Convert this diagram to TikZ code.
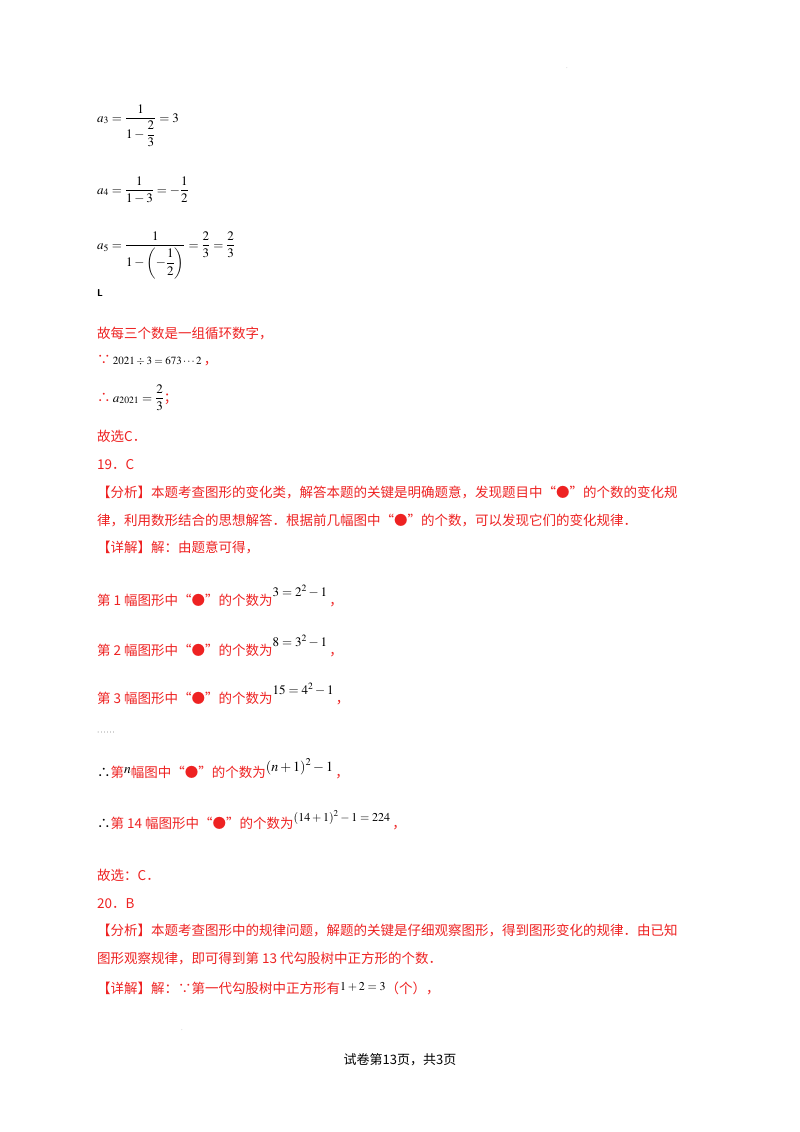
\documentclass[tikz,border=0pt]{standalone}
\usepackage{amsmath}
\usepackage{mathptmx}
\usepackage{fontspec}
\setmainfont{Liberation Serif}
\newfontfamily\cjk{Noto Sans CJK SC}
\definecolor{ansred}{RGB}{238,34,34}
\begin{document}
\begin{tikzpicture}[x=1pt,y=-1pt,
  txt/.style={anchor=base west,inner sep=0pt,font=\cjk\fontsize{13.5}{16}\selectfont},
  red/.style={txt,text=ansred},
  mth/.style={anchor=base west,inner sep=0pt,font=\fontsize{13}{15}\selectfont}]
\useasboundingbox[fill=white] (0,0) rectangle (800,1132);
\node[inner sep=0pt,text=gray,font=\tiny] (dot) at (567,68) {.};
\node[mth] (a3) at (97,122) {$a_3=\dfrac{1}{1-\dfrac{2}{3}}=3$};
\node[mth] (a4) at (97,194) {$a_4=\dfrac{1}{1-3}=-\dfrac{1}{2}$};
\node[mth] (a5) at (97,249) {$a_5=\dfrac{1}{1-\left(-\dfrac{1}{2}\right)}=\dfrac{2}{3}=\dfrac{2}{3}$};
\node[anchor=base west,inner sep=0pt,font=\sffamily\bfseries\fontsize{10}{12}\selectfont] (L) at (97,296) {L};
\node[red] (l1) at (97,338) {故每三个数是一组循环数字，};
\node[red] (l2) at (97,364) {∵\,\textcolor{black}{\fontsize{11}{12}\selectfont$2021\div3=673\cdots2$}\,，};
\node[red] (l3) at (97,402) {∴\,\textcolor{black}{\fontsize{13}{15}\selectfont$a_{2021}=\dfrac{2}{3}$}；};
\node[red] (l4) at (97,441) {故选C．};
\node[red] (l5) at (97,469) {19．C};
\node[red] (l6) at (97,497) {【分析】本题考查图形的变化类，解答本题的关键是明确题意，发现题目中“●”的个数的变化规};
\node[red] (l7) at (97,525) {律，利用数形结合的思想解答．根据前几幅图中“●”的个数，可以发现它们的变化规律．};
\node[red] (l8) at (97,552) {【详解】解：由题意可得，};
\node[red] (l9) at (97,605) {第 1 幅图形中“●”的个数为\raisebox{9pt}{\textcolor{black}{\fontsize{13}{15}\selectfont$3=2^2-1$}}\,，};
\node[red] (l10) at (97,655) {第 2 幅图形中“●”的个数为\raisebox{9pt}{\textcolor{black}{\fontsize{13}{15}\selectfont$8=3^2-1$}}\,，};
\node[red] (l11) at (97,703) {第 3 幅图形中“●”的个数为\raisebox{9pt}{\textcolor{black}{\fontsize{13}{15}\selectfont$15=4^2-1$}}\,，};
\node[txt] (l12) at (97,734) {\fontsize{8}{10}\selectfont$\cdots\cdots$};
\node[red] (l13) at (97,777) {\textcolor{black}{∴}第\raisebox{4pt}{\textcolor{black}{$n$}}幅图中“●”的个数为\raisebox{6pt}{\textcolor{black}{\fontsize{14}{16}\selectfont$(n+1)^2-1$}}\,，};
\node[red] (l14) at (97,828) {\textcolor{black}{∴}第 14 幅图形中“●”的个数为\raisebox{7pt}{\textcolor{black}{\fontsize{12}{14}\selectfont$(14+1)^2-1=224$}}\,，};
\node[red] (l15) at (97,880) {故选：C．};
\node[red] (l16) at (97,908) {20．B};
\node[red] (l17) at (97,935) {【分析】本题考查图形中的规律问题，解题的关键是仔细观察图形，得到图形变化的规律．由已知};
\node[red] (l18) at (97,963) {图形观察规律，即可得到第 13 代勾股树中正方形的个数．};
\node[red] (l19) at (97,993) {【详解】解：∵第一代勾股树中正方形有\raisebox{3pt}{\textcolor{black}{\fontsize{12}{14}\selectfont$1+2=3$}}（个），};
\node[inner sep=0pt,text=gray,font=\tiny] (dot2) at (182,1030) {.};
\node[anchor=base,inner sep=0pt,font=\cjk\fontsize{13}{15}\selectfont] (foot) at (400,1064) {试卷第13页，共3页};
\end{tikzpicture}
\end{document}
